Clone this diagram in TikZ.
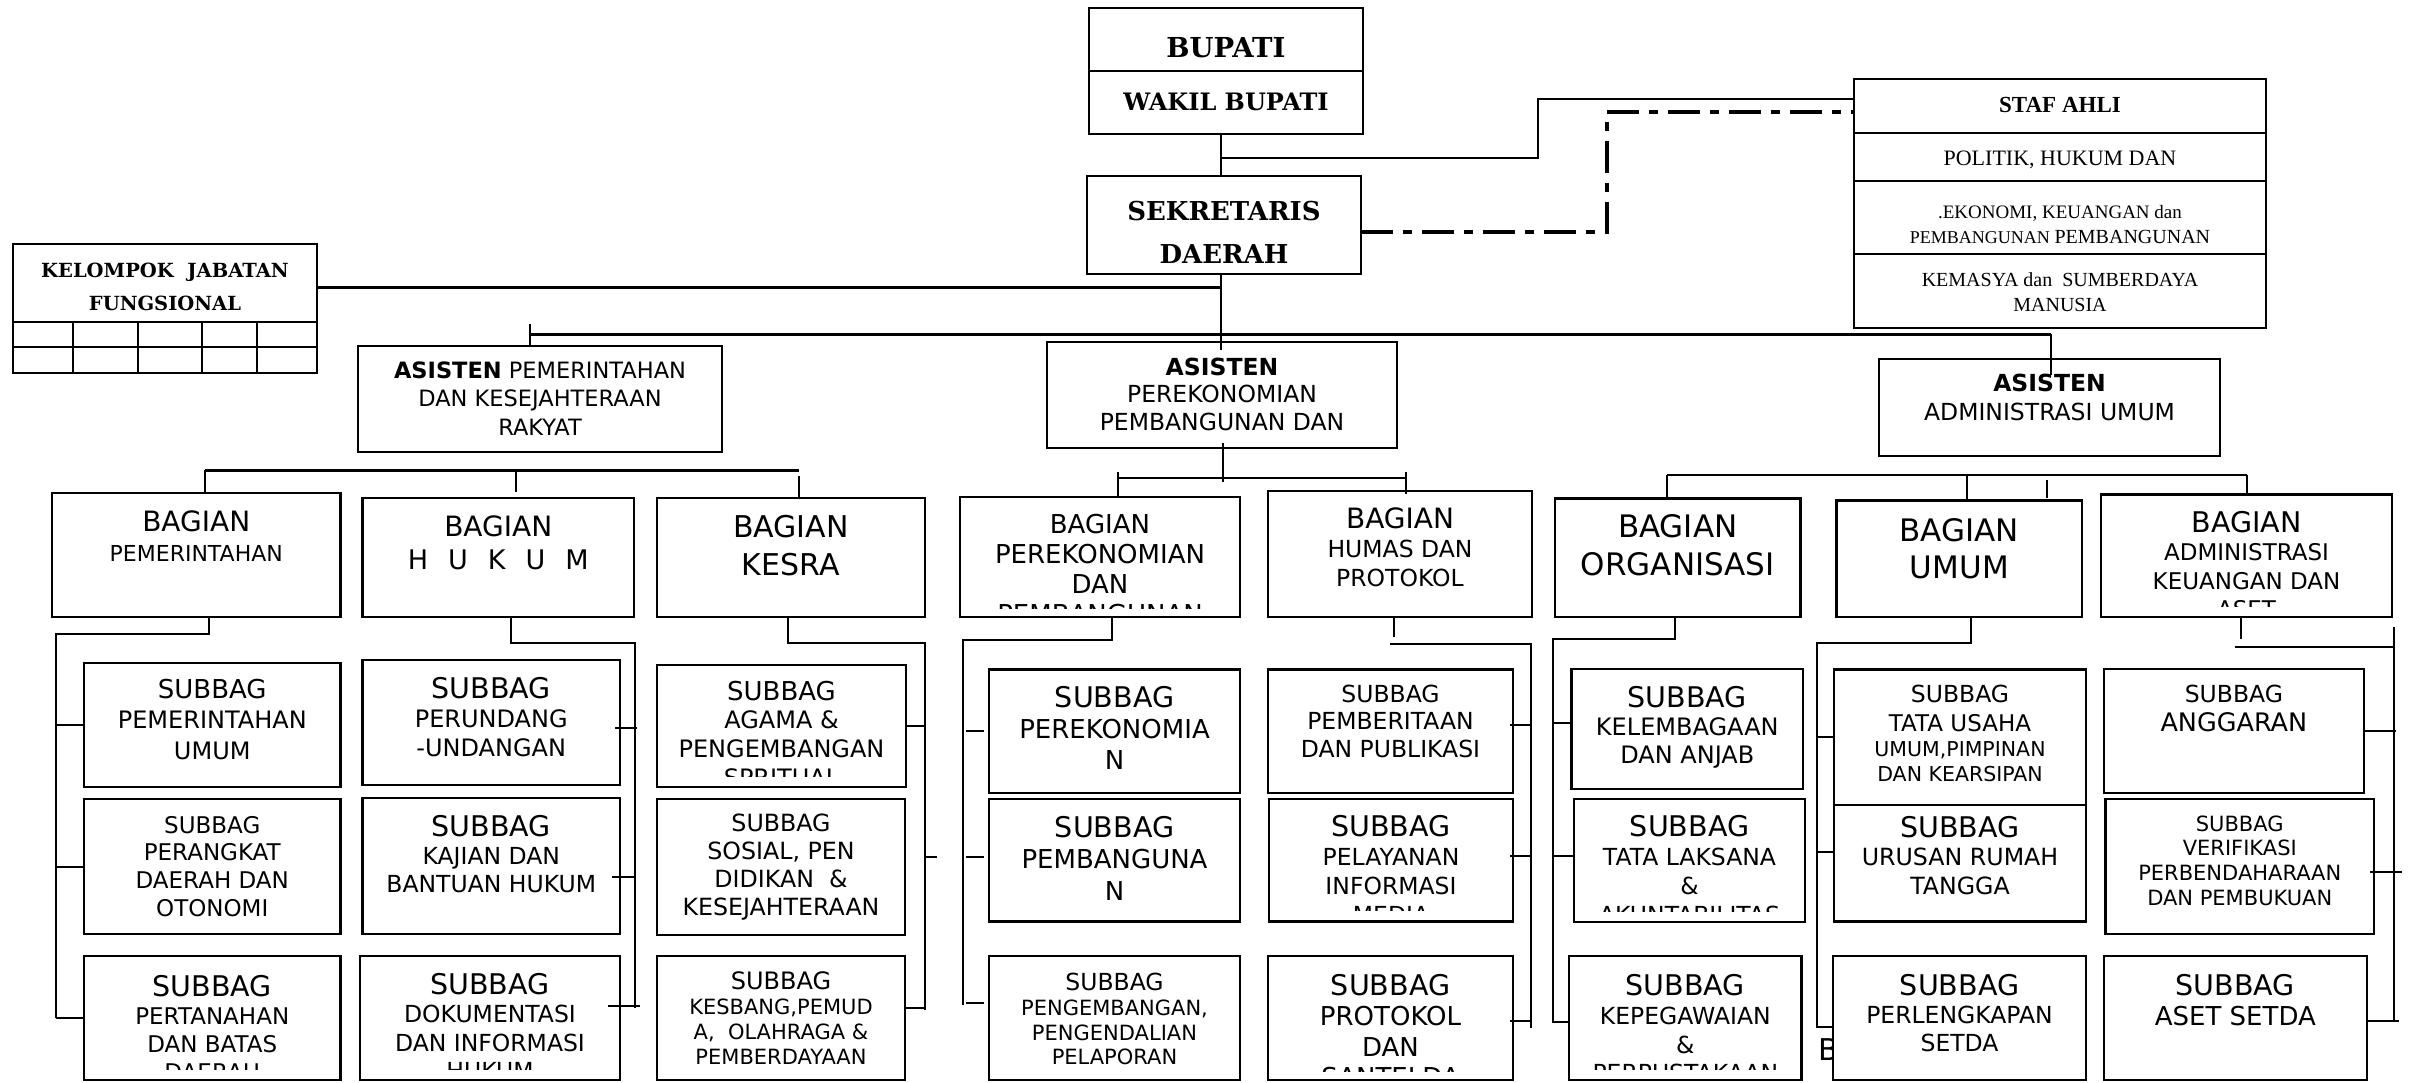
\documentclass[tikz,border=0pt]{standalone}
\usepackage{fontspec}
\setmainfont{DejaVu Sans}
\newfontfamily\dvserif{DejaVu Serif}
\newfontfamily\timesrm{Liberation Serif}
\newcommand{\fs}[2]{\fontsize{#1}{#2}\selectfont}

% box whose text is clipped a little above its lower edge
% [clip inset]{name}{x1}{y1}{x2}{y2}{first baseline}{text}
\newcommand{\orgbox}[8][11]{%
  \node[obox, minimum width={(#5-#3)*1pt}, minimum height={(#6-#4)*1pt}] (#2) at ({(#3+#5)/2},{(#4+#6)/2}) {};
  \begin{scope}
    \clip (#3,#4) rectangle (#5,#6-#1);
    \node[otext] (#2-txt) at ({(#3+#5)/2},#7) {\parbox[t]{\dimexpr#5pt-#3pt+40pt\relax}{\centering #8}};
  \end{scope}}

\tikzset{
  obox/.style={draw, line width=2.3pt, fill=white, inner sep=0pt, outer sep=0pt},
  otext/.style={anchor=base, inner sep=0pt},
  link/.style={line width=2pt},
  bus/.style={line width=3pt},
  dashdot/.style={line width=3.5pt, dash pattern=on 32pt off 10pt on 9pt off 10pt},
}

\begin{document}
\begin{tikzpicture}[x=1pt, y=-1pt]
  \useasboundingbox (0,0) rectangle (2409,1082);

  % left over letter behind the last box of BAGIAN UMUM
  \node[otext, anchor=base west] (strayb) at (1818,1060) {\fs{30}{36}B};

  % top
  \orgbox{bup}{1089}{8}{1363}{71}{57}{\dvserif\bfseries\fs{27.5}{32}BUPATI}
  \orgbox{wakil}{1089}{71}{1363}{134}{110}{\dvserif\bfseries\fs{24}{30}WAKIL BUPATI}
  \orgbox[5]{sekda}{1087}{176}{1361}{274}{220}{\dvserif\bfseries\fs{26}{43}SEKRETARIS\\DAERAH}
  \orgbox[5]{jf}{13}{244}{317}{322}{277.7}{\dvserif\bfseries\fs{19.5}{32.3}KELOMPOK\ \ JABATAN\\FUNGSIONAL}
  \draw[link] (13,322) rectangle (317,373) (13,347) -- (317,347)
    (73,322) -- (73,373) (138,322) -- (138,373) (202,322) -- (202,373) (257,322) -- (257,373);

  \orgbox{staf}{1854}{79}{2266}{133}{112.7}{\timesrm\bfseries\fs{23}{28}STAF AHLI}
  \orgbox{staf1}{1854}{133}{2266}{181}{165.7}{\timesrm\fs{22}{26}POLITIK, HUKUM DAN}
  \orgbox[6]{staf2}{1854}{181}{2266}{254}{218}{\timesrm\fs{19}{25}.EKONOMI, KEUANGAN dan\\{\fs{18}{25}PEMBANGUNAN} {\fs{20}{25}PEMBANGUNAN}}
  \orgbox{staf3}{1854}{254}{2266}{328}{286.7}{\timesrm\fs{20}{25}KEMASYA dan\ \ SUMBERDAYA\\MANUSIA}

  % asisten
  \orgbox{as1}{358}{346}{722}{452}{378}{\fs{22.5}{28.5}\textbf{ASISTEN} PEMERINTAHAN\\DAN KESEJAHTERAAN\\RAKYAT}
  \orgbox{as2}{1047}{342}{1397}{448}{375}{\fs{23.5}{27.5}\textbf{ASISTEN}\\PEREKONOMIAN\\PEMBANGUNAN DAN}
  \orgbox{as3}{1879}{359}{2220}{456}{391.7}{\fs{23.5}{28.3}\textbf{ASISTEN}\\ADMINISTRASI UMUM}

  % bagian
  \orgbox{b1}{52}{493}{340.5}{617}{531}{\fs{22}{30}{\fs{28}{30}BAGIAN}\\PEMERINTAHAN}
  \orgbox{b2}{362.5}{498}{634}{617}{536}{\fs{28}{33}BAGIAN\\{\fs{27}{33}H\hspace{20pt}U\hspace{20pt}K\hspace{20pt}U\hspace{20pt}M}}
  \orgbox{b3}{657}{498}{924.7}{617}{537}{\fs{30}{38}BAGIAN\\KESRA}
  \orgbox[9]{b4}{960}{497}{1240}{617}{533}{\fs{26}{30}BAGIAN\\PEREKONOMIAN\\DAN\\PEMBANGUNAN}
  \orgbox{b5}{1268}{491}{1532}{617}{528}{\fs{23.5}{29}{\fs{28}{29}BAGIAN}\\HUMAS DAN\\PROTOKOL}
  \orgbox{b6}{1555}{498.5}{1800.5}{617}{537}{\fs{31}{38}BAGIAN\\ORGANISASI}
  \orgbox{b7}{1836.6}{500.5}{2082}{617}{541}{\fs{31}{37}BAGIAN\\UMUM}
  \orgbox{b8}{2101}{494.5}{2392}{617}{532}{\fs{23}{28.5}{\fs{28.5}{28}BAGIAN}\\ADMINISTRASI\\KEUANGAN DAN\\ASET}

  % subbag
  \orgbox{c1a}{84}{663}{340.5}{787}{698}{\fs{24}{30.5}{\fs{26}{30}SUBBAG}\\PEMERINTAHAN\\UMUM}
  \orgbox{c1b}{84}{799}{340.5}{934}{833}{\fs{23}{27.7}SUBBAG\\PERANGKAT\\DAERAH DAN\\OTONOMI}
  \orgbox{c1c}{84}{956}{340.5}{1080}{996}{\fs{23}{28.3}{\fs{28.5}{28}SUBBAG}\\PERTANAHAN\\DAN BATAS\\DAERAH}
  \orgbox{c2a}{362.5}{660}{620}{785}{698}{\fs{24}{29}{\fs{28.5}{28}SUBBAG}\\PERUNDANG\\-UNDANGAN}
  \orgbox{c2b}{362.5}{798}{620}{934}{836}{\fs{23.5}{28.4}{\fs{28.5}{28}SUBBAG}\\KAJIAN DAN\\BANTUAN HUKUM}
  \orgbox{c2c}{360}{956}{620}{1080}{994}{\fs{23.5}{28.5}{\fs{28.5}{28}SUBBAG}\\DOKUMENTASI\\DAN INFORMASI\\HUKUM}
  \orgbox{c3a}{657}{665}{906}{787}{700}{\fs{24}{28.7}{\fs{26}{28}SUBBAG}\\AGAMA \&\\PENGEMBANGAN\\SPRITUAL}
  \orgbox{c3b}{657}{799}{905}{935}{831}{\fs{23.7}{28.3}SUBBAG\\SOSIAL, PEN\\DIDIKAN\ \ \&\\KESEJAHTERAAN}
  \orgbox{c3c}{657}{956}{905}{1080}{989}{\fs{21}{25}{\fs{24}{25}SUBBAG}\\KESBANG,PEMUD\\A,\ \ OLAHRAGA \&\\PEMBERDAYAAN}
  \orgbox{c4a}{989}{669.5}{1240}{793}{707}{\fs{26}{31.3}{\fs{28.5}{31}SUBBAG}\\PEREKONOMIA\\N}
  \orgbox{c4b}{989}{799}{1240}{921.5}{837}{\fs{26}{31.7}{\fs{28.5}{31}SUBBAG}\\PEMBANGUNA\\N}
  \orgbox{c4c}{989}{956}{1240}{1080}{990.5}{\fs{21}{24.8}{\fs{23.5}{24}SUBBAG}\\PENGEMBANGAN,\\PENGENDALIAN\\PELAPORAN}
  \orgbox{c5a}{1268}{669.5}{1513}{793}{702}{\fs{23.5}{27.8}SUBBAG\\PEMBERITAAN\\DAN PUBLIKASI}
  \orgbox{c5b}{1269}{799}{1513}{921.5}{836}{\fs{23.5}{29}{\fs{28.5}{28}SUBBAG}\\PELAYANAN\\INFORMASI\\MEDIA}
  \orgbox[9]{c5c}{1268}{956}{1513}{1080}{995.5}{\fs{26}{30.3}{\fs{28.5}{30}SUBBAG}\\PROTOKOL\\DAN\\SANTELDA}
  \orgbox{c6a}{1571.6}{669}{1803}{789}{707}{\fs{24}{28.4}{\fs{28.5}{28}SUBBAG}\\KELEMBAGAAN\\DAN ANJAB}
  \orgbox{c6b}{1574}{799}{1805}{922}{836}{\fs{23.5}{29}{\fs{28.5}{28}SUBBAG}\\TATA LAKSANA\\\&\\AKUNTABILITAS}
  \orgbox{c6c}{1569}{956}{1801.6}{1080}{995.7}{\fs{23.5}{28.7}{\fs{28.5}{28}SUBBAG}\\KEPEGAWAIAN\\\&\\PERPUSTAKAAN}
  \orgbox{c7a}{1834}{669.5}{2086}{805}{702}{\fs{20.5}{24.8}{\fs{23.5}{24}SUBBAG}\\[5pt]{\fs{23}{24}TATA USAHA}\\UMUM,PIMPINAN\\DAN KEARSIPAN}
  \orgbox{c7b}{1834}{805}{2086}{921.5}{837}{\fs{23.7}{28.7}{\fs{28.5}{28}SUBBAG}\\URUSAN RUMAH\\TANGGA}
  \orgbox{c7c}{1833}{956}{2086}{1080}{995}{\fs{23.5}{28.2}{\fs{28.5}{28}SUBBAG}\\PERLENGKAPAN\\SETDA}
  \orgbox{c8a}{2103.7}{669}{2364}{793}{702}{\fs{25.5}{29.8}{\fs{23.5}{28}SUBBAG}\\ANGGARAN}
  \orgbox{c8b}{2105.5}{799}{2374}{934}{831}{\fs{21}{24.7}SUBBAG\\VERIFIKASI\\PERBENDAHARAAN\\DAN PEMBUKUAN}
  \orgbox{c8c}{2103.7}{956}{2367}{1080}{995}{\fs{26}{30.5}{\fs{28.5}{30}SUBBAG}\\ASET SETDA}

  % top connectors
  \coordinate (spine) at (1220.5,0);
  \coordinate (stafbend) at (1538,158);
  \coordinate (ddbend) at (1607,232);
  \coordinate (jfend) at (1220.5,287);
  \draw[link] (wakil.south -| spine) -- (sekda.north -| spine);
  \draw[link] (stafbend -| spine) -- (stafbend) |- ([yshift=7pt]staf.west);
  \draw[dashdot] (sekda.east |- ddbend) -- (ddbend) |- ([yshift=-6pt]staf.west);
  \draw[bus] (jf.east |- jfend) -- (jfend);
  \draw[link] (sekda.south -| spine) -- (as2.north -| spine) -- ++(0,8);

  % asisten bus
  \coordinate (busl) at (530,334);
  \coordinate (busr) at (2051,334);
  \draw[bus] (busl) -- (busr);
  \draw[link] (busl) ++(0,-10) -- (busl |- as1.north);
  \draw[link] (busr) -- ++(0,41);

  % bagian buses
  \coordinate (l3a) at (205,470);
  \coordinate (l3b) at (516,470);
  \coordinate (l3c) at (799,470);
  \draw[bus] (l3a) -- (l3c);
  \draw[link] (l3a) -- (l3a |- b1.north);
  \draw[link] (l3b) -- ++(0,22);
  \draw[link] (l3c) ++(0,6) -- (l3c |- b3.north);

  \coordinate (m3top) at (1223,482);
  \coordinate (m3a) at (1118,478);
  \coordinate (m3b) at (1406,478);
  \draw[link] (as2.south -| m3top) ++(0,-5) -- (m3top);
  \draw[link] (m3a) -- (m3b);
  \draw[link] (m3a) ++(0,-6) -- (m3a |- b4.north);
  \draw[link] (m3b) ++(0,-6) -- ++(0,22);

  \coordinate (r3a) at (1667,475);
  \coordinate (r3b) at (1967,475);
  \coordinate (r3c) at (2047,480);
  \coordinate (r3d) at (2247,475);
  \draw[link] (r3a) -- (r3d);
  \draw[link] (r3a) -- (r3a |- b6.north);
  \draw[link] (r3b) -- (r3b |- b7.north);
  \draw[link] (r3c) -- ++(0,18);
  \draw[link] (r3d) -- (r3d |- b8.north);

  % subbag buses
  \coordinate (g1d) at (209,634);
  \coordinate (g1) at (56,634);
  \draw[link] (b1.south -| g1d) -- (g1d) -- (g1) -- (g1 |- c1c.west);
  \draw[link] (c1a.west) -- (c1a.west -| g1);
  \draw[link] (c1b.west) -- (c1b.west -| g1);
  \draw[link] (c1c.west) -- (c1c.west -| g1);

  \coordinate (g2d) at (511,643);
  \coordinate (g2) at (635,643);
  \draw[link] (b2.south -| g2d) -- (g2d) -- (g2) -- ++(0,365);
  \draw[link] ([yshift=-5.5pt]c2a.east) ++(-5,0) -- ++(22,0);
  \draw[link] ([yshift=-11pt]c2b.east) ++(-8,0) -- ++(23,0);
  \draw[link] ([yshift=12pt]c2c.east) ++(-12,0) -- ++(32,0);

  \coordinate (g3d) at (788,643);
  \coordinate (g3) at (925,643);
  \draw[link] (b3.south -| g3d) -- (g3d) -- (g3) -- ++(0,367);
  \draw[link] (c3a.east) -- ++(19,0);
  \draw[link] (g3 |- c3b.east) ++(0,-10) -- ++(12,0);
  \draw[link] ([yshift=10pt]c3c.east) -- ++(20,0);

  \coordinate (g4d) at (1112,640);
  \coordinate (g4) at (962.5,640);
  \draw[link] (b4.south -| g4d) -- (g4d) -- (g4) -- ++(0,365);
  \draw[link] (c4a.west) ++(-5,0) -- ++(-18,0);
  \draw[link] ([yshift=3pt]c4b.west) ++(-5,0) -- ++(-18,0);
  \draw[link] ([yshift=15pt]c4c.west) ++(-5,0) -- ++(-18,0);

  \coordinate (g5d) at (1393.7,636.6);
  \coordinate (g5) at (1531,644);
  \draw[link] (b5.south -| g5d) -- (g5d);
  \draw[link] (g5) ++(-141,0) -- (g5) -- ++(0,384);
  \draw[link] ([yshift=6pt]c5a.east) ++(-3,0) -- ++(21,0);
  \draw[link] ([yshift=4pt]c5b.east) ++(-3,0) -- ++(21,0);
  \draw[link] ([yshift=-3pt]c5c.east) ++(-3,0) -- ++(21,0);

  \coordinate (g6d) at (1675,639);
  \coordinate (g6) at (1553,639);
  \draw[link] (b6.south -| g6d) -- (g6d) -- (g6) |- ([yshift=-3.5pt]c6c.west);
  \draw[link] ([yshift=6pt]c6a.west) -- ++(-19,0);
  \draw[link] ([yshift=4.5pt]c6b.west) -- ++(-21,0);

  \coordinate (g7d) at (1971,643);
  \coordinate (g7) at (1817,643);
  \draw[link] (b7.south -| g7d) -- (g7d) -- (g7) |- ([yshift=-9pt]c7c.west);
  \draw[link] (c7a.west) -- (c7a.west -| g7);
  \draw[link] ([yshift=11pt]c7b.west) -- ++(-17,0);

  \coordinate (g8d) at (2241,638.6);
  \coordinate (g8) at (2393.7,646.5);
  \draw[link] (b8.south -| g8d) -- (g8d);
  \draw[link] (g8) ++(-159,0) -- (g8);
  \draw[link] (g8) ++(0,-20) -- ++(0,393);
  \draw[link] (c8a.east) -- ++(32,0);
  \draw[link] ([yshift=-5.5pt]c8b.east) ++(-4,0) -- ++(32,0);
  \draw[link] ([yshift=-3pt]c8c.east) -- ++(32,0);
\end{tikzpicture}
\end{document}
